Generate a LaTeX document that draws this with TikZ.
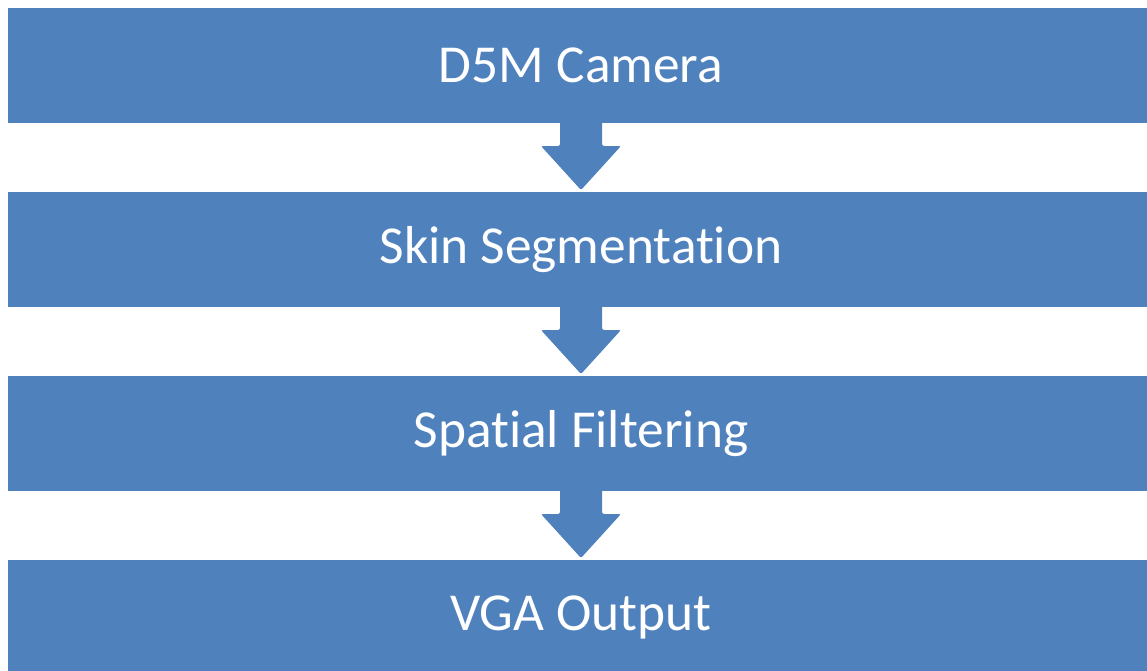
\documentclass[tikz,border=0pt]{standalone}
\usepackage{fontspec}
\setmainfont{Carlito}[Ligatures=NoCommon]
\usetikzlibrary{positioning}

\definecolor{officeblue}{HTML}{4F81BD}

\begin{document}
\begin{tikzpicture}[
    x=0.5pt, y=0.5pt,
    node distance=34.5pt,
    stage/.style={fill=officeblue, minimum width=573pt, minimum height=57.5pt, inner sep=0pt, outer sep=0pt, text=white, font=\fontsize{26.7}{32}\selectfont},
    flow/.style={fill=officeblue, rounded corners=1pt}
]
\useasboundingbox (0,0) rectangle (1147,-670);

\node[stage] (camera) at (581,-65.5) {D5M Camera};
\node[stage, below=of camera] (skin) {Skin Segmentation};
\node[stage, below=of skin] (spatial) {Spatial Filtering};
\node[stage, below=of spatial] (vga) {VGA Output};

% block arrows between the stages
\foreach \from/\to in {camera/skin, skin/spatial, spatial/vga} {
  \fill[flow] ([xshift=-10.5pt, yshift=1pt]\from.south) -- ([xshift=-10.5pt, yshift=-11.5pt]\from.south)
    -- ([xshift=-20pt, yshift=-11.5pt]\from.south) -- ([yshift=1pt]\to.north)
    -- ([xshift=20pt, yshift=-11.5pt]\from.south) -- ([xshift=10.5pt, yshift=-11.5pt]\from.south)
    -- ([xshift=10.5pt, yshift=1pt]\from.south) -- cycle;
}
\end{tikzpicture}
\end{document}
